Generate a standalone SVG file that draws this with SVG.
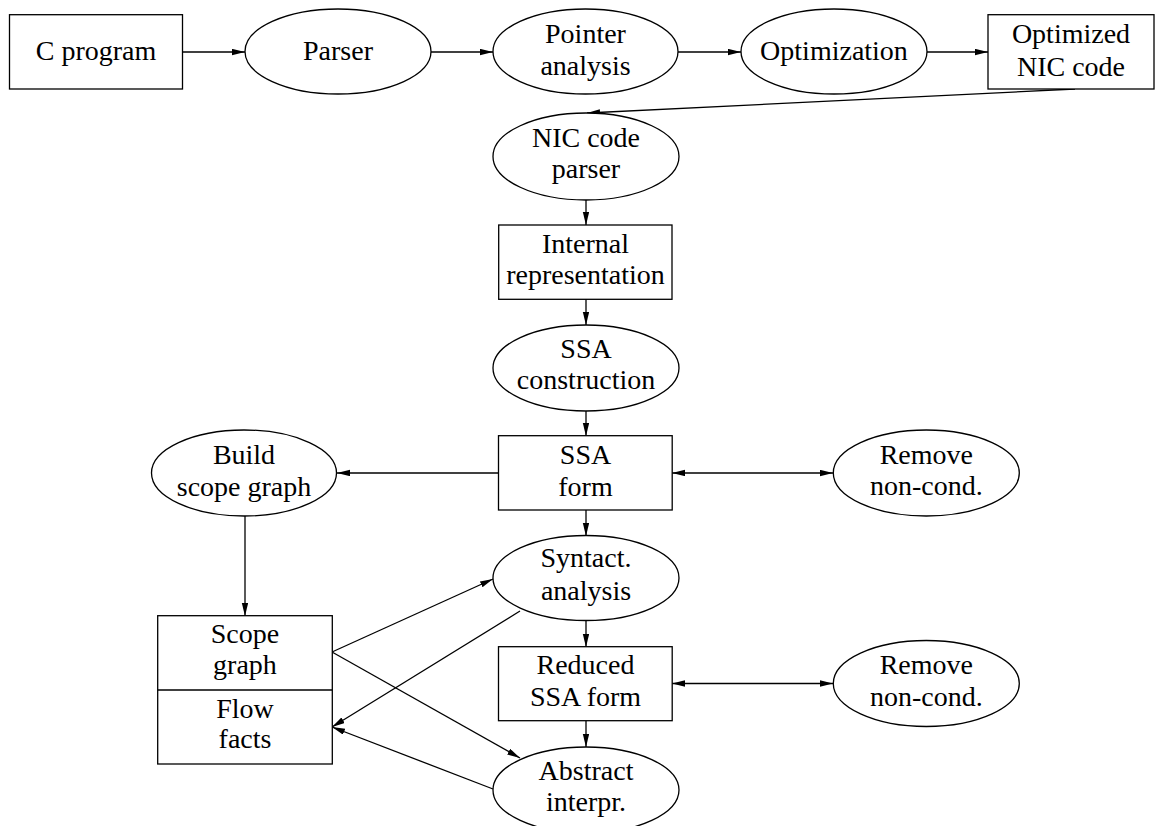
<svg xmlns="http://www.w3.org/2000/svg" width="1156" height="826" viewBox="0 0 1156 826">
<style>
.n{fill:#fff;stroke:#000;stroke-width:1.3}
.t{font-family:"Liberation Serif","Times New Roman",serif;font-size:28px;fill:#000;text-anchor:middle}
.e{fill:none;stroke:#000;stroke-width:1.3}
</style>
<defs>
<marker id="ah" markerUnits="userSpaceOnUse" markerWidth="14" markerHeight="8" refX="13" refY="3.2" orient="auto-start-reverse" viewBox="0 0 14 8">
<path d="M0,0 L13,3.2 L0,6.4 z" fill="#000"/>
</marker>
</defs>
<rect width="1156" height="826" fill="#fff"/>
<g id="connectors">
<line class="e" x1="183" y1="52" x2="245" y2="52" marker-end="url(#ah)"/>
<line class="e" x1="431" y1="52" x2="493" y2="52" marker-end="url(#ah)"/>
<line class="e" x1="678" y1="52" x2="741" y2="52" marker-end="url(#ah)"/>
<line class="e" x1="927" y1="52" x2="988" y2="52" marker-end="url(#ah)"/>
<line class="e" x1="1075" y1="89" x2="587" y2="113" marker-end="url(#ah)"/>
<line class="e" x1="586" y1="200" x2="586" y2="225" marker-end="url(#ah)"/>
<line class="e" x1="586" y1="299" x2="586" y2="325" marker-end="url(#ah)"/>
<line class="e" x1="586" y1="411" x2="586" y2="436" marker-end="url(#ah)"/>
<line class="e" x1="498" y1="473" x2="337" y2="473" marker-end="url(#ah)"/>
<line class="e" x1="672" y1="473" x2="833" y2="473" marker-start="url(#ah)" marker-end="url(#ah)"/>
<line class="e" x1="245" y1="516" x2="245" y2="616" marker-end="url(#ah)"/>
<line class="e" x1="586" y1="510" x2="586" y2="536" marker-end="url(#ah)"/>
<line class="e" x1="332" y1="652" x2="493" y2="579" marker-end="url(#ah)"/>
<line class="e" x1="332" y1="652" x2="520" y2="758" marker-end="url(#ah)"/>
<line class="e" x1="520" y1="611" x2="332" y2="727" marker-end="url(#ah)"/>
<line class="e" x1="493" y1="789" x2="332" y2="727" marker-end="url(#ah)"/>
<line class="e" x1="586" y1="621" x2="586" y2="647" marker-end="url(#ah)"/>
<line class="e" x1="672" y1="683.5" x2="833" y2="683.5" marker-start="url(#ah)" marker-end="url(#ah)"/>
<line class="e" x1="586" y1="721" x2="586" y2="747" marker-end="url(#ah)"/>
</g>
<g id="cprogram"><rect class="n" x="9.5" y="14.7" width="173" height="74.3"/><text class="t" x="96" y="60">C program</text></g>
<g id="parser"><ellipse class="n" cx="338" cy="51.5" rx="93" ry="42.5"/><text class="t" x="338" y="60">Parser</text></g>
<g id="pointer"><ellipse class="n" cx="585.5" cy="51.5" rx="92.5" ry="42.5"/><text class="t" x="585.5" y="43">Pointer</text><text class="t" x="585.5" y="75">analysis</text></g>
<g id="optimization"><ellipse class="n" cx="834" cy="51.5" rx="93" ry="42.5"/><text class="t" x="834" y="60">Optimization</text></g>
<g id="optnic"><rect class="n" x="988" y="14.7" width="166" height="74.3"/><text class="t" x="1071" y="43">Optimized</text><text class="t" x="1071" y="76">NIC code</text></g>
<g id="nicparser"><ellipse class="n" cx="586" cy="156.5" rx="93" ry="43.5"/><text class="t" x="586" y="147">NIC code</text><text class="t" x="586" y="178">parser</text></g>
<g id="internal"><rect class="n" x="498.7" y="225" width="173.3" height="74.3"/><text class="t" x="585.5" y="253">Internal</text><text class="t" x="585.5" y="284">representation</text></g>
<g id="ssacons"><ellipse class="n" cx="586" cy="368" rx="93" ry="43"/><text class="t" x="586" y="358">SSA</text><text class="t" x="586" y="389">construction</text></g>
<g id="ssaform"><rect class="n" x="498.5" y="435.7" width="173.7" height="74.3"/><text class="t" x="585.5" y="464">SSA</text><text class="t" x="585.5" y="496">form</text></g>
<g id="build"><ellipse class="n" cx="244" cy="473" rx="92.5" ry="43"/><text class="t" x="244" y="464">Build</text><text class="t" x="244" y="496">scope graph</text></g>
<g id="remove1"><ellipse class="n" cx="926.3" cy="473" rx="93" ry="43"/><text class="t" x="926.3" y="463.5">Remove</text><text class="t" x="926.3" y="495">non-cond.</text></g>
<g id="syntact"><ellipse class="n" cx="586" cy="578" rx="93" ry="42.5"/><text class="t" x="586" y="567">Syntact.</text><text class="t" x="586" y="600">analysis</text></g>
<g id="scopeflow"><rect class="n" x="157.7" y="615.7" width="174.6" height="148.3"/><line class="n" x1="157.7" y1="690" x2="332.3" y2="690"/><text class="t" x="245" y="643">Scope</text><text class="t" x="245" y="674">graph</text><text class="t" x="245" y="718">Flow</text><text class="t" x="245" y="748">facts</text></g>
<g id="reduced"><rect class="n" x="498.5" y="646.7" width="173.7" height="74" /><text class="t" x="585.5" y="674">Reduced</text><text class="t" x="585.5" y="706">SSA form</text></g>
<g id="remove2"><ellipse class="n" cx="926.3" cy="683.5" rx="93" ry="43"/><text class="t" x="926.3" y="674">Remove</text><text class="t" x="926.3" y="706">non-cond.</text></g>
<g id="abstract"><ellipse class="n" cx="586" cy="790" rx="93" ry="43"/><text class="t" x="586" y="780">Abstract</text><text class="t" x="586" y="811">interpr.</text></g>
</svg>
